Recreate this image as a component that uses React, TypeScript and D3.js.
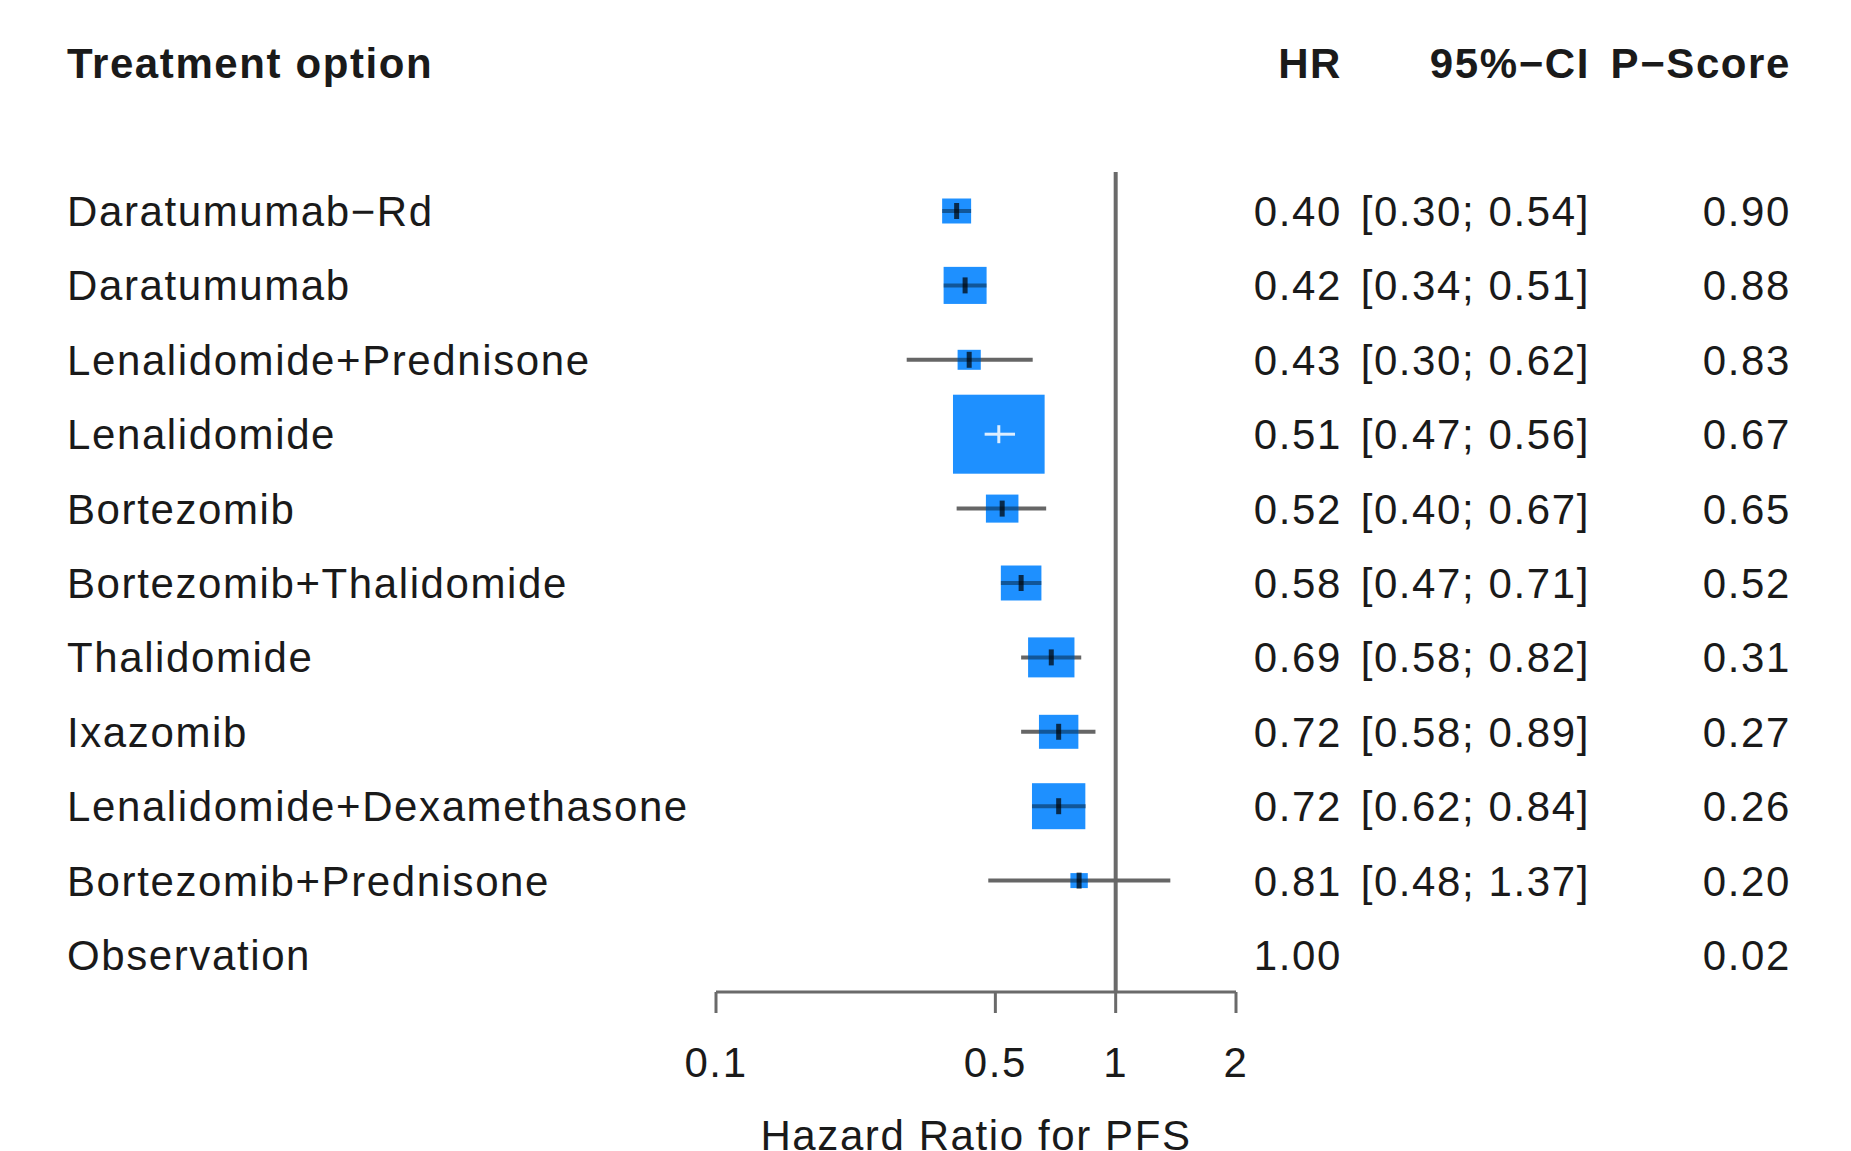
import React from "react"
import * as d3 from "d3"

// forest plot of hazard ratios (network meta-analysis, PFS)

const treatments = [
  "Daratumumab\u2212Rd",
  "Daratumumab",
  "Lenalidomide+Prednisone",
  "Lenalidomide",
  "Bortezomib",
  "Bortezomib+Thalidomide",
  "Thalidomide",
  "Ixazomib",
  "Lenalidomide+Dexamethasone",
  "Bortezomib+Prednisone",
  "Observation",
]
const hr = [0.4, 0.42, 0.43, 0.51, 0.52, 0.58, 0.69, 0.72, 0.72, 0.81, 1.0]
const ciLower = [0.3, 0.34, 0.3, 0.47, 0.4, 0.47, 0.58, 0.58, 0.62, 0.48, null]
const ciUpper = [0.54, 0.51, 0.62, 0.56, 0.67, 0.71, 0.82, 0.89, 0.84, 1.37, null]
const pScore = [0.9, 0.88, 0.83, 0.67, 0.65, 0.52, 0.31, 0.27, 0.26, 0.2, 0.02]
// relative weight (box area)
const weight = [10, 22, 6.4, 100, 12.6, 19.6, 25.6, 18.5, 33.9, 3.6, null]
// whisker ends as they are drawn in the figure
const drawnLower = [0.37, 0.373, 0.3, 0.47, 0.4, 0.517, 0.58, 0.58, 0.62, 0.48, null]
const drawnUpper = [0.433, 0.473, 0.62, 0.56, 0.67, 0.65, 0.82, 0.89, 0.84, 1.37, null]
const xTicks = [0.1, 0.5, 1, 2]

const W = 1851
const H = 1151
const FONT = "'Liberation Sans', Arial, Helvetica, sans-serif"
const FS = 42
const LS = 1.6
const BLUE = "#1E90FF"

export default function App() {
  const x = d3.scaleLog().domain([0.1, 2]).range([716, 1236])
  const y = d3.scalePoint().domain(treatments).range([211, 955])
  const side = d3.scaleSqrt().domain([0, 100]).range([0, 79])
  const f2 = d3.format(".2f")
  const axisY = 992
  const txt = { fontFamily: FONT, fontSize: FS, letterSpacing: LS, fill: "#1a1a1a" }

  return (
    <svg width={W} height={H} style={{ position: "absolute", left: 0, top: 0, background: "#fff" }}>
      {/* headers */}
      <g style={{ ...txt, fontWeight: "bold" }}>
        <text x={67} y={78}>Treatment option</text>
        <text x={1342} y={78} textAnchor="end">HR</text>
        <text x={1590} y={78} textAnchor="end">95%{"\u2212"}CI</text>
        <text x={1791} y={78} textAnchor="end">P{"\u2212"}Score</text>
      </g>

      {/* reference line at HR = 1 */}
      <line x1={x(1)} x2={x(1)} y1={172} y2={axisY} stroke="#6a6a6a" strokeWidth={4} />

      {treatments.map((t, i) => {
        const cy = y(t) as number
        const cx = x(hr[i])
        const base = cy + 15
        const rows = [
          <text key="l" x={67} y={base} style={txt}>{t}</text>,
          <text key="h" x={1342} y={base} textAnchor="end" style={txt}>{f2(hr[i])}</text>,
          <text key="p" x={1791} y={base} textAnchor="end" style={txt}>{f2(pScore[i])}</text>,
        ]
        if (ciLower[i] != null) {
          rows.push(
            <text key="c" x={1590} y={base} textAnchor="end" style={txt}>
              {`[${f2(ciLower[i] as number)}; ${f2(ciUpper[i] as number)}]`}
            </text>
          )
        }
        if (weight[i] != null) {
          const h = side(weight[i] as number)
          const w = h * 1.16
          const bx0 = cx - w / 2
          const bx1 = cx + w / 2
          const lo = x(drawnLower[i] as number)
          const hi = x(drawnUpper[i] as number)
          // CI well inside the square: drawn in white
          const inside = lo > bx0 + 4 && hi < bx1 - 4
          rows.push(
            <g key="m">
              <line x1={lo} x2={hi} y1={cy} y2={cy} stroke="#666" strokeWidth={4} />
              <rect x={bx0} y={cy - h / 2} width={w} height={h} fill={BLUE} />
              {inside ? (
                <g stroke="#fff" strokeWidth={3} opacity={0.85}>
                  <line x1={lo} x2={hi} y1={cy} y2={cy} />
                  <line x1={cx} x2={cx} y1={cy - 9} y2={cy + 9} />
                </g>
              ) : (
                <g stroke="#000">
                  <line x1={bx0} x2={bx1} y1={cy} y2={cy} strokeWidth={4} opacity={0.4} />
                  <line x1={cx} x2={cx} y1={cy - 8} y2={cy + 8} strokeWidth={5} opacity={0.7} />
                </g>
              )}
            </g>
          )
        }
        return <g key={t}>{rows}</g>
      })}

      {/* x axis */}
      <g stroke="#6a6a6a" strokeWidth={3}>
        <line x1={x(0.1)} x2={x(2)} y1={axisY} y2={axisY} />
        {xTicks.map(v => (
          <line key={v} x1={x(v)} x2={x(v)} y1={axisY} y2={axisY + 21} />
        ))}
      </g>
      {xTicks.map(v => (
        <text key={v} x={x(v)} y={1077} textAnchor="middle" style={txt}>{String(v)}</text>
      ))}
      <text x={(x(0.1) + x(2)) / 2} y={1150} textAnchor="middle" style={txt}>Hazard Ratio for PFS</text>
    </svg>
  )
}
